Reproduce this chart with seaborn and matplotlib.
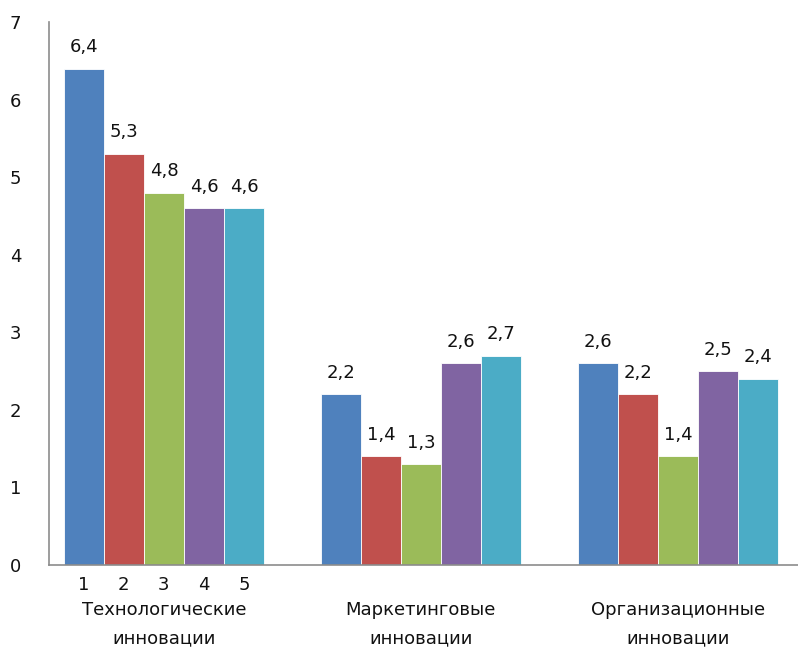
import numpy as np
import pandas as pd
import matplotlib
matplotlib.use("Agg")
import matplotlib.pyplot as plt
import matplotlib.transforms as mtransforms
import seaborn as sns

# data
groups = ["Технологические\nинновации", "Маркетинговые\nинновации", "Организационные\nинновации"]
series = ["1", "2", "3", "4", "5"]
tech = [6.4, 5.3, 4.8, 4.6, 4.6]
marketing = [2.2, 1.4, 1.3, 2.6, 2.7]
organiz = [2.6, 2.2, 1.4, 2.5, 2.4]
colors = ["#4F81BD", "#C0504D", "#9BBB59", "#8064A2", "#4BACC6"]

rows = []
for g, vals in zip(groups, [tech, marketing, organiz]):
    for s, v in zip(series, vals):
        rows.append({"group": g, "series": s, "value": v})
df = pd.DataFrame(rows)

sns.set_style("white")
plt.rcParams["font.family"] = ["DejaVu Sans"]

fig = plt.figure(figsize=(7.98, 6.5), dpi=100)
ax = fig.add_axes([0.0614, 0.1308, 0.9386, 0.8352])

sns.barplot(data=df, x="group", y="value", hue="series", palette=colors,
            width=0.78, saturation=1, edgecolor="white", linewidth=0.6,
            legend=False, ax=ax)

ax.set_ylim(0, 7)
ax.set_xlim(-0.447, 2.467)
ax.set_yticks(range(0, 8))
ax.set_xlabel("")
ax.set_ylabel("")

# value labels on top of the bars
for cont in ax.containers:
    labels = [f"{v:.1f}".replace(".", ",") for v in cont.datavalues]
    ax.bar_label(cont, labels=labels, padding=9, fontsize=13, color="#111111")

# series numbers under the first group only
trans = mtransforms.blended_transform_factory(ax.transData, ax.transAxes)
for s, cont in zip(series, ax.containers):
    p = cont.patches[0]
    ax.text(p.get_x() + p.get_width() / 2, -0.02, s, transform=trans,
            ha="center", va="top", fontsize=13, color="#111111")

ax.tick_params(axis="x", length=0, pad=26, labelsize=13, labelcolor="#111111")
for lab in ax.get_xticklabels():
    lab.set_linespacing(1.75)
ax.tick_params(axis="y", direction="inout", length=6, width=1, color="#8c8c8c",
               labelsize=13, labelcolor="#111111", pad=17)

for side in ["top", "right"]:
    ax.spines[side].set_visible(False)
for side in ["left", "bottom"]:
    ax.spines[side].set_color("#8c8c8c")
    ax.spines[side].set_linewidth(1.2)

fig.savefig("out.png", dpi=100)
